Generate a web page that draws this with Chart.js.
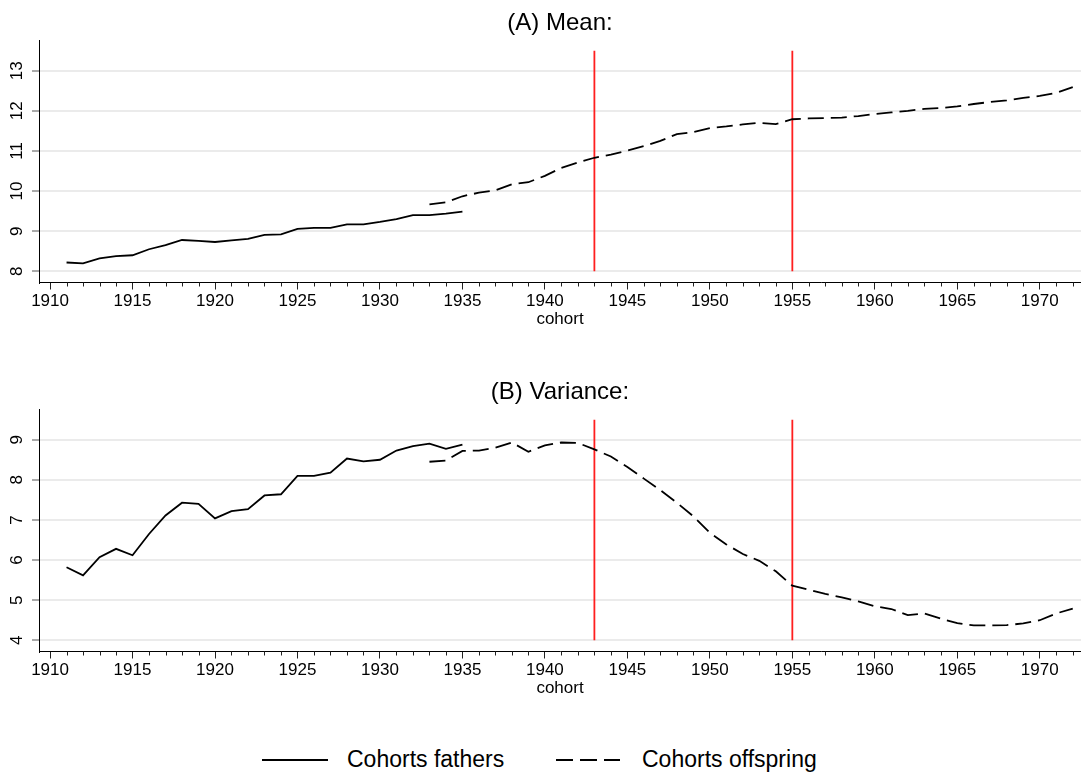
<!DOCTYPE html>
<html>
<head>
<meta charset="utf-8">
<title>Cohorts: mean and variance</title>
<script src="https://cdn.jsdelivr.net/npm/chart.js@4.4.0/dist/chart.umd.min.js"></script>
<style>
    html, body { margin: 0; padding: 0; background: #fff; overflow: hidden; }
    body { width: 1081px; height: 774px; position: relative; font-family: "Liberation Sans", Arial, sans-serif; }
    canvas { position: absolute; left: 0; }
    #mean-chart { top: 0; }
    #var-chart { top: 369px; }
    .legend-text { position: absolute; top: 748px; font-size: 23px; line-height: 23px; color: #000; white-space: nowrap; }
    #legend-lines { position: absolute; left: 0; top: 750px; }
</style>
</head>
<body>
<canvas id="mean-chart" width="1100" height="370"></canvas>
<canvas id="var-chart" width="1100" height="370"></canvas>

<svg id="legend-lines" width="700" height="20">
    <line x1="262" y1="10" x2="328" y2="10" stroke="#000" stroke-width="2"/>
    <line x1="556" y1="10" x2="620" y2="10" stroke="#000" stroke-width="2" stroke-dasharray="17 7"/>
</svg>
<div class="legend-text" style="left:347px">Cohorts fathers</div>
<div class="legend-text" style="left:642px">Cohorts offspring</div>

<script>
// --- Data ---
const fatherYears = [1911, 1912, 1913, 1914, 1915, 1916, 1917, 1918, 1919, 1920,
    1921, 1922, 1923, 1924, 1925, 1926, 1927, 1928, 1929, 1930,
    1931, 1932, 1933, 1934, 1935];
const offspringYears = [1933, 1934, 1935, 1936, 1937, 1938, 1939, 1940, 1941, 1942,
    1943, 1944, 1945, 1946, 1947, 1948, 1949, 1950, 1951, 1952,
    1953, 1954, 1955, 1956, 1957, 1958, 1959, 1960, 1961, 1962,
    1963, 1964, 1965, 1966, 1967, 1968, 1969, 1970, 1971, 1972];

const fatherMean = [8.22, 8.20, 8.32, 8.38, 8.40, 8.55, 8.65, 8.78, 8.76, 8.73,
    8.77, 8.81, 8.91, 8.92, 9.06, 9.08, 9.08, 9.17, 9.17, 9.23,
    9.30, 9.40, 9.40, 9.44, 9.49];
const offspringMean = [9.67, 9.72, 9.87, 9.96, 10.02, 10.17, 10.22, 10.38, 10.58, 10.71,
    10.83, 10.91, 11.01, 11.12, 11.25, 11.42, 11.47, 11.57, 11.61, 11.66,
    11.70, 11.67, 11.79, 11.81, 11.82, 11.83, 11.87, 11.92, 11.96, 12.00,
    12.05, 12.07, 12.11, 12.17, 12.22, 12.26, 12.32, 12.37, 12.45, 12.59];

const fatherVar = [5.82, 5.62, 6.07, 6.28, 6.12, 6.65, 7.11, 7.43, 7.40, 7.04,
    7.22, 7.27, 7.61, 7.64, 8.10, 8.10, 8.18, 8.53, 8.46, 8.50,
    8.73, 8.84, 8.90, 8.77, 8.88];
const offspringVar = [8.45, 8.48, 8.72, 8.73, 8.80, 8.93, 8.70, 8.86, 8.93, 8.92,
    8.76, 8.58, 8.32, 8.03, 7.74, 7.43, 7.09, 6.68, 6.39, 6.15,
    5.98, 5.72, 5.36, 5.26, 5.16, 5.07, 4.97, 4.85, 4.78, 4.63,
    4.67, 4.54, 4.43, 4.37, 4.37, 4.38, 4.42, 4.50, 4.67, 4.79];

// vertical reference lines (cohort years) and their extent in each panel
const refYears = [1943, 1955];
const meanRefRange = [8, 13.5];
const varRefRange = [4, 9.5];

const FONT = '"Liberation Sans", Arial, sans-serif';

const toPoints = (xs, ys) => xs.map((x, i) => ({ x: x, y: ys[i] }));

// Stata-like extras: rotated y tick labels and short minor ticks on the x axis
const axisExtras = {
    id: 'axisExtras',
    afterDraw(chart) {
        const { ctx } = chart;
        const x = chart.scales.x;
        const y = chart.scales.y;
        ctx.save();
        ctx.strokeStyle = '#222';
        ctx.lineWidth = 1;
        for (let yr = 1910; yr <= 1972; yr++) {
            if (yr % 5 === 0) continue;
            const px = Math.round(x.getPixelForValue(yr)) + 0.5;
            ctx.beginPath();
            ctx.moveTo(px, x.top);
            ctx.lineTo(px, x.top + 4);
            ctx.stroke();
        }
        ctx.fillStyle = '#000';
        ctx.font = '17px ' + FONT;
        ctx.textAlign = 'center';
        ctx.textBaseline = 'middle';
        y.ticks.forEach(t => {
            ctx.save();
            ctx.translate(17.5, y.getPixelForValue(t.value));
            ctx.rotate(-Math.PI / 2);
            ctx.fillText(String(t.value), 0, 0);
            ctx.restore();
        });
        ctx.restore();
    }
};

function makeChart(id, title, fathers, offspring, refRange, yMin, yMax) {
    const datasets = [
        {
            label: 'Cohorts fathers',
            data: toPoints(fatherYears, fathers),
            borderColor: '#000',
            borderWidth: 1.8,
            pointRadius: 0,
            tension: 0
        },
        {
            label: 'Cohorts offspring',
            data: toPoints(offspringYears, offspring),
            borderColor: '#000',
            borderWidth: 1.8,
            borderDash: [16, 7],
            pointRadius: 0,
            tension: 0
        }
    ];
    refYears.forEach(yr => {
        datasets.push({
            label: 'ref ' + yr,
            data: [{ x: yr, y: refRange[0] }, { x: yr, y: refRange[1] }],
            borderColor: '#ff1f1f',
            borderWidth: 1.8,
            pointRadius: 0
        });
    });

    return new Chart(document.getElementById(id), {
        type: 'line',
        data: { datasets: datasets },
        options: {
            responsive: false,
            animation: false,
            layout: { padding: { top: 0, right: 19, bottom: 0, left: 0 } },
            plugins: {
                legend: { display: false },
                tooltip: { enabled: false },
                title: {
                    display: true,
                    text: title,
                    fullSize: false,
                    color: '#000',
                    font: { family: FONT, size: 24, weight: 'normal', lineHeight: 1.2 },
                    padding: { top: 8.9, bottom: 2.3 }
                }
            },
            scales: {
                x: {
                    type: 'linear',
                    min: 1909.33,
                    max: 1972.5,
                    afterFit: s => { s.height = 87.5; },
                    border: { color: '#000', width: 1 },
                    grid: { drawOnChartArea: false, tickLength: 7, tickColor: '#222' },
                    ticks: {
                        stepSize: 5,
                        includeBounds: false,
                        autoSkip: false,
                        maxRotation: 0,
                        padding: 2,
                        color: '#000',
                        font: { family: FONT, size: 17 },
                        callback: v => String(v)
                    },
                    title: {
                        display: true,
                        text: 'cohort',
                        color: '#000',
                        font: { family: FONT, size: 17, lineHeight: 1.2 },
                        padding: { top: 0, bottom: 40.8 }
                    }
                },
                y: {
                    min: yMin,
                    max: yMax,
                    afterFit: s => { s.width = 39; },
                    border: { color: '#000', width: 1 },
                    grid: { color: '#ebebeb', lineWidth: 2, tickLength: 7, tickColor: '#555', tickWidth: 1 },
                    ticks: { stepSize: 1, includeBounds: false, display: false }
                }
            }
        },
        plugins: [axisExtras]
    });
}

makeChart('mean-chart', '(A) Mean:', fatherMean, offspringMean, meanRefRange, 7.721, 13.765);
makeChart('var-chart', '(B) Variance:', fatherVar, offspringVar, varRefRange, 3.721, 9.765);
</script>
</body>
</html>
